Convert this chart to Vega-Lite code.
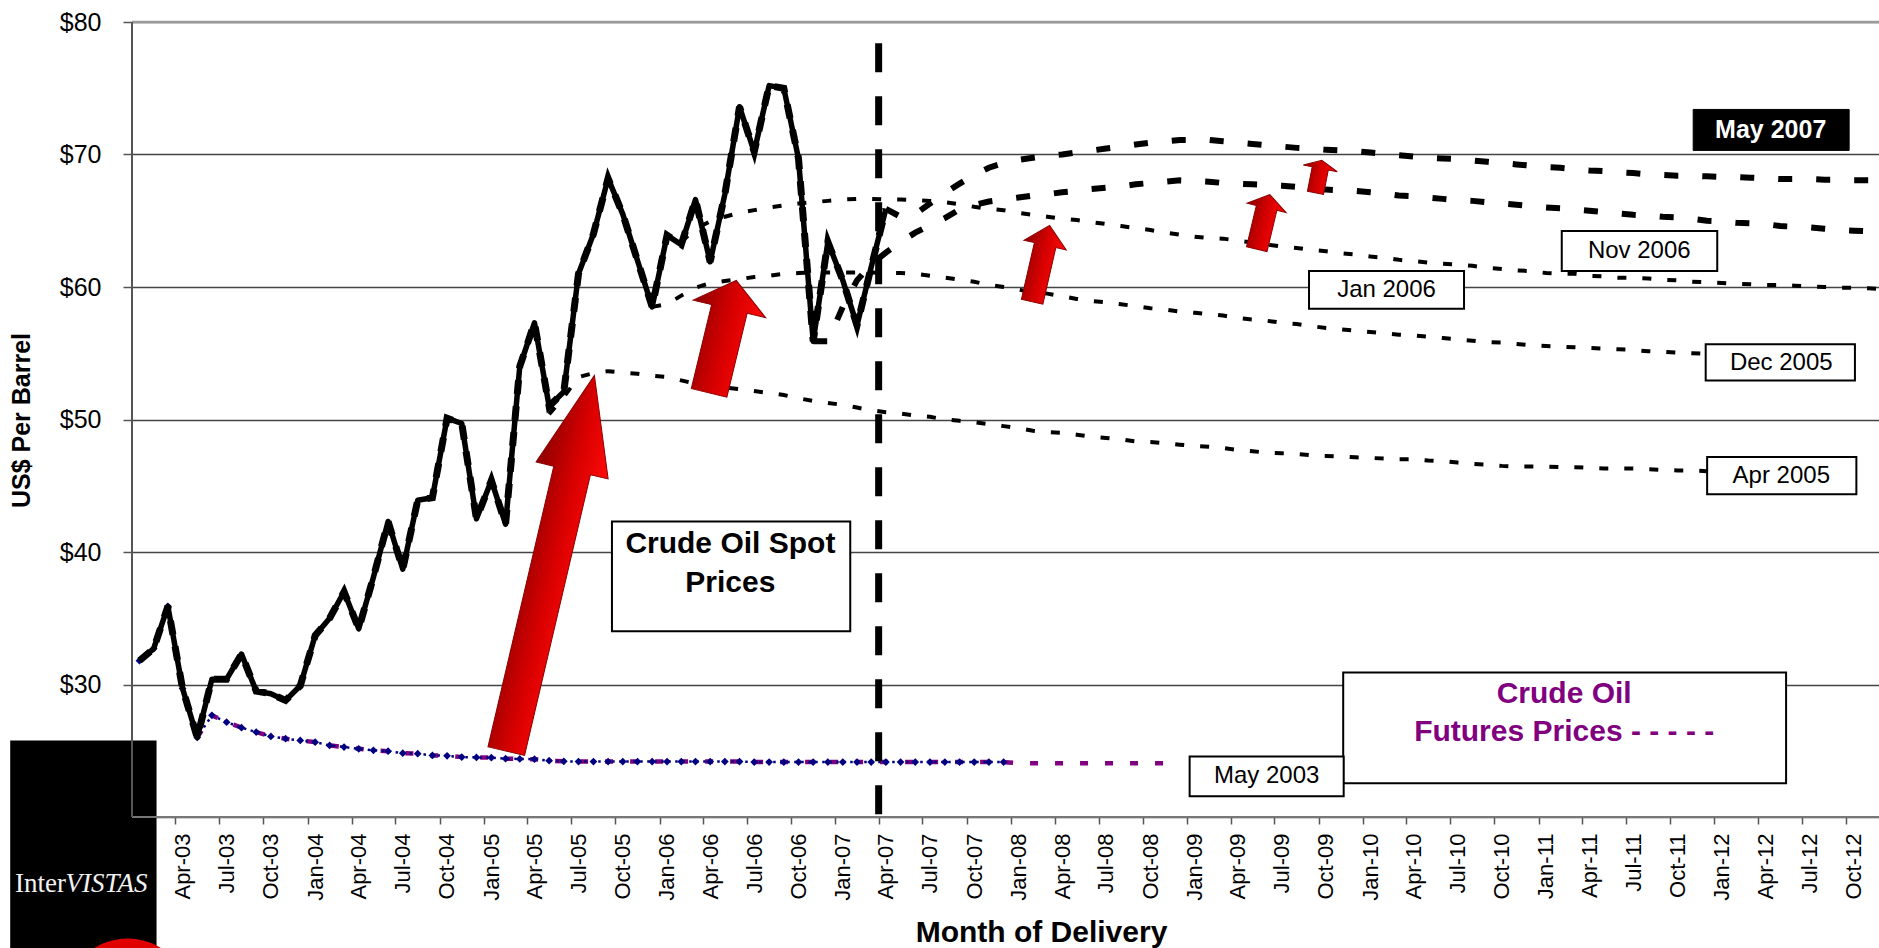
{
"$schema":"https://vega.github.io/schema/vega-lite/v6.json",
"width":1747,"height":795,"autosize":"none",
"padding":{"left":132,"top":22,"right":0,"bottom":131},
"background":"white",
"config":{"view":{"stroke":null},"font":"Liberation Sans"},
"datasets":{
"spot":[{"d":"2003-01","v":31.8},{"d":"2003-02","v":32.7},{"d":"2003-03","v":35.9},{"d":"2003-04","v":29.7},{"d":"2003-05","v":26.0},{"d":"2003-06","v":30.4},{"d":"2003-07","v":30.4},{"d":"2003-08","v":32.3},{"d":"2003-09","v":29.5},{"d":"2003-10","v":29.3},{"d":"2003-11","v":28.8},{"d":"2003-12","v":29.9},
{"d":"2004-01","v":33.7},{"d":"2004-02","v":35.0},{"d":"2004-03","v":37.0},{"d":"2004-04","v":34.2},{"d":"2004-05","v":38.1},{"d":"2004-06","v":42.3},{"d":"2004-07","v":38.7},{"d":"2004-08","v":43.9},{"d":"2004-09","v":44.1},{"d":"2004-10","v":50.1},{"d":"2004-11","v":49.7},{"d":"2004-12","v":42.5},
{"d":"2005-01","v":45.4},{"d":"2005-02","v":42.1},{"d":"2005-03","v":54.0},{"d":"2005-04","v":57.3},{"d":"2005-05","v":51.0},{"d":"2005-06","v":52.1},{"d":"2005-07","v":61.0},{"d":"2005-08","v":64.0},{"d":"2005-09","v":68.2},{"d":"2005-10","v":65.5},{"d":"2005-11","v":62.0},{"d":"2005-12","v":58.5},
{"d":"2006-01","v":63.9},{"d":"2006-02","v":63.2},{"d":"2006-03","v":66.6},{"d":"2006-04","v":61.9},{"d":"2006-05","v":67.0},{"d":"2006-06","v":73.6},{"d":"2006-07","v":70.2},{"d":"2006-08","v":75.2},{"d":"2006-09","v":75.0},{"d":"2006-10","v":69.7},{"d":"2006-11","v":55.9},{"d":"2006-12","v":63.4},
{"d":"2007-01","v":60.5},{"d":"2007-02","v":57.1},{"d":"2007-03","v":61.5},{"d":"2007-04","v":65.9}],
"may03":[{"d":"2003-01","v":31.8},{"d":"2003-02","v":32.7},{"d":"2003-03","v":35.9},{"d":"2003-04","v":29.7},{"d":"2003-05","v":26.0},{"d":"2003-06","v":27.67},{"d":"2003-07","v":27.16},{"d":"2003-08","v":26.74},{"d":"2003-09","v":26.41},{"d":"2003-10","v":26.08},{"d":"2003-11","v":25.91},{"d":"2003-12","v":25.78},
{"d":"2004-01","v":25.65},{"d":"2004-02","v":25.4},{"d":"2004-03","v":25.28},{"d":"2004-04","v":25.15},{"d":"2004-05","v":25.03},{"d":"2004-06","v":24.97},{"d":"2004-07","v":24.82},{"d":"2004-08","v":24.78},{"d":"2004-09","v":24.65},{"d":"2004-10","v":24.62},{"d":"2004-11","v":24.52},{"d":"2004-12","v":24.5},
{"d":"2005-01","v":24.48},{"d":"2005-02","v":24.4},{"d":"2005-03","v":24.38},{"d":"2005-04","v":24.36},{"d":"2005-05","v":24.25},{"d":"2005-06","v":24.2},{"d":"2005-07","v":24.18},{"d":"2005-08","v":24.18},{"d":"2005-09","v":24.18},{"d":"2005-10","v":24.18},{"d":"2005-11","v":24.18},{"d":"2005-12","v":24.18},
{"d":"2006-01","v":24.18},{"d":"2006-02","v":24.18},{"d":"2006-03","v":24.18},{"d":"2006-04","v":24.18},{"d":"2006-05","v":24.18},{"d":"2006-06","v":24.18},{"d":"2006-07","v":24.15},{"d":"2006-08","v":24.15},{"d":"2006-09","v":24.15},{"d":"2006-10","v":24.15},{"d":"2006-11","v":24.15},{"d":"2006-12","v":24.15},
{"d":"2007-01","v":24.15},{"d":"2007-02","v":24.15},{"d":"2007-03","v":24.15},{"d":"2007-04","v":24.15},{"d":"2007-05","v":24.15},{"d":"2007-06","v":24.15},{"d":"2007-07","v":24.15},{"d":"2007-08","v":24.15},{"d":"2007-09","v":24.15},{"d":"2007-10","v":24.15},{"d":"2007-11","v":24.15},{"d":"2007-12","v":24.15},
{"d":"2008-01","v":24.05},{"d":"2008-02","v":24.05},{"d":"2008-03","v":24.05},{"d":"2008-04","v":24.05},{"d":"2008-05","v":24.05},{"d":"2008-06","v":24.05},{"d":"2008-07","v":24.05},{"d":"2008-08","v":24.05},{"d":"2008-09","v":24.05},{"d":"2008-10","v":24.05},{"d":"2008-11","v":24.05},{"d":"2008-12","v":24.05}],
"apr05":[{"d":"2005-05","v":50.4},{"d":"2005-06","v":51.7},{"d":"2005-07","v":53.2},{"d":"2005-08","v":53.5},{"d":"2005-09","v":53.65},{"d":"2005-10","v":53.55},{"d":"2005-11","v":53.45},{"d":"2005-12","v":53.3},
{"d":"2006-01","v":53.2},{"d":"2006-02","v":52.95},{"d":"2006-03","v":52.7},{"d":"2006-04","v":52.5},{"d":"2006-05","v":52.4},{"d":"2006-06","v":52.3},{"d":"2006-07","v":52.15},{"d":"2006-08","v":52.0},{"d":"2006-09","v":51.85},{"d":"2006-10","v":51.6},{"d":"2006-11","v":51.4},{"d":"2006-12","v":51.25},
{"d":"2007-01","v":51.1},{"d":"2007-02","v":50.9},{"d":"2007-03","v":50.7},{"d":"2007-04","v":50.55},{"d":"2007-05","v":50.45},{"d":"2007-06","v":50.3},{"d":"2007-07","v":50.2},{"d":"2007-08","v":50.0},{"d":"2007-09","v":49.9},{"d":"2007-10","v":49.8},{"d":"2007-11","v":49.65},{"d":"2007-12","v":49.5},
{"d":"2008-01","v":49.35},{"d":"2008-02","v":49.15},{"d":"2008-03","v":49.05},{"d":"2008-04","v":49.0},{"d":"2008-05","v":48.85},{"d":"2008-06","v":48.7},{"d":"2008-07","v":48.6},{"d":"2008-08","v":48.5},{"d":"2008-09","v":48.35},{"d":"2008-10","v":48.3},{"d":"2008-11","v":48.2},{"d":"2008-12","v":48.1},
{"d":"2009-01","v":48.0},{"d":"2009-02","v":47.95},{"d":"2009-03","v":47.85},{"d":"2009-04","v":47.7},{"d":"2009-05","v":47.6},{"d":"2009-06","v":47.5},{"d":"2009-07","v":47.45},{"d":"2009-08","v":47.4},{"d":"2009-09","v":47.3},{"d":"2009-10","v":47.25},{"d":"2009-11","v":47.2},{"d":"2009-12","v":47.15},
{"d":"2010-01","v":47.1},{"d":"2010-02","v":47.05},{"d":"2010-03","v":47.0},{"d":"2010-04","v":47.0},{"d":"2010-05","v":46.9},{"d":"2010-06","v":46.85},{"d":"2010-07","v":46.75},{"d":"2010-08","v":46.65},{"d":"2010-09","v":46.6},{"d":"2010-10","v":46.5},{"d":"2010-11","v":46.45},{"d":"2010-12","v":46.45},
{"d":"2011-01","v":46.45},{"d":"2011-02","v":46.4},{"d":"2011-03","v":46.4},{"d":"2011-04","v":46.35},{"d":"2011-05","v":46.3},{"d":"2011-06","v":46.3},{"d":"2011-07","v":46.3},{"d":"2011-08","v":46.25},{"d":"2011-09","v":46.2},{"d":"2011-10","v":46.15},{"d":"2011-11","v":46.15},{"d":"2011-12","v":46.1}],
"dec05":[{"d":"2005-12","v":58.5},
{"d":"2006-01","v":58.7},{"d":"2006-02","v":59.35},{"d":"2006-03","v":59.95},{"d":"2006-04","v":60.3},{"d":"2006-05","v":60.45},{"d":"2006-06","v":60.6},{"d":"2006-07","v":60.75},{"d":"2006-08","v":60.85},{"d":"2006-09","v":61.0},{"d":"2006-10","v":61.05},{"d":"2006-11","v":61.1},{"d":"2006-12","v":61.1},
{"d":"2007-01","v":61.1},{"d":"2007-02","v":61.1},{"d":"2007-03","v":61.1},{"d":"2007-04","v":61.05},{"d":"2007-05","v":61.05},{"d":"2007-06","v":61.0},{"d":"2007-07","v":60.85},{"d":"2007-08","v":60.7},{"d":"2007-09","v":60.55},{"d":"2007-10","v":60.4},{"d":"2007-11","v":60.15},{"d":"2007-12","v":60.0},
{"d":"2008-01","v":59.8},{"d":"2008-02","v":59.6},{"d":"2008-03","v":59.5},{"d":"2008-04","v":59.3},{"d":"2008-05","v":59.1},{"d":"2008-06","v":58.95},{"d":"2008-07","v":58.85},{"d":"2008-08","v":58.7},{"d":"2008-09","v":58.55},{"d":"2008-10","v":58.4},{"d":"2008-11","v":58.3},{"d":"2008-12","v":58.15},
{"d":"2009-01","v":58.05},{"d":"2009-02","v":57.95},{"d":"2009-03","v":57.85},{"d":"2009-04","v":57.65},{"d":"2009-05","v":57.55},{"d":"2009-06","v":57.45},{"d":"2009-07","v":57.3},{"d":"2009-08","v":57.2},{"d":"2009-09","v":57.05},{"d":"2009-10","v":56.9},{"d":"2009-11","v":56.8},{"d":"2009-12","v":56.7},
{"d":"2010-01","v":56.6},{"d":"2010-02","v":56.5},{"d":"2010-03","v":56.4},{"d":"2010-04","v":56.35},{"d":"2010-05","v":56.25},{"d":"2010-06","v":56.15},{"d":"2010-07","v":56.05},{"d":"2010-08","v":55.95},{"d":"2010-09","v":55.85},{"d":"2010-10","v":55.8},{"d":"2010-11","v":55.7},{"d":"2010-12","v":55.6},
{"d":"2011-01","v":55.55},{"d":"2011-02","v":55.5},{"d":"2011-03","v":55.45},{"d":"2011-04","v":55.4},{"d":"2011-05","v":55.35},{"d":"2011-06","v":55.3},{"d":"2011-07","v":55.25},{"d":"2011-08","v":55.15},{"d":"2011-09","v":55.1},{"d":"2011-10","v":55.05},{"d":"2011-11","v":55.0},{"d":"2011-12","v":54.95}],
"jan06":[{"d":"2006-02","v":63.4},{"d":"2006-03","v":64.4},{"d":"2006-04","v":64.95},{"d":"2006-05","v":65.3},{"d":"2006-06","v":65.6},{"d":"2006-07","v":65.8},{"d":"2006-08","v":66.0},{"d":"2006-09","v":66.15},{"d":"2006-10","v":66.3},{"d":"2006-11","v":66.4},{"d":"2006-12","v":66.5},
{"d":"2007-01","v":66.6},{"d":"2007-02","v":66.65},{"d":"2007-03","v":66.65},{"d":"2007-04","v":66.6},{"d":"2007-05","v":66.6},{"d":"2007-06","v":66.55},{"d":"2007-07","v":66.5},{"d":"2007-08","v":66.4},{"d":"2007-09","v":66.25},{"d":"2007-10","v":66.05},{"d":"2007-11","v":65.9},{"d":"2007-12","v":65.8},
{"d":"2008-01","v":65.6},{"d":"2008-02","v":65.45},{"d":"2008-03","v":65.3},{"d":"2008-04","v":65.15},{"d":"2008-05","v":65.05},{"d":"2008-06","v":64.9},{"d":"2008-07","v":64.75},{"d":"2008-08","v":64.6},{"d":"2008-09","v":64.45},{"d":"2008-10","v":64.3},{"d":"2008-11","v":64.1},{"d":"2008-12","v":63.95},
{"d":"2009-01","v":63.8},{"d":"2009-02","v":63.7},{"d":"2009-03","v":63.65},{"d":"2009-04","v":63.5},{"d":"2009-05","v":63.35},{"d":"2009-06","v":63.2},{"d":"2009-07","v":63.05},{"d":"2009-08","v":62.95},{"d":"2009-09","v":62.8},{"d":"2009-10","v":62.7},{"d":"2009-11","v":62.55},{"d":"2009-12","v":62.45},
{"d":"2010-01","v":62.3},{"d":"2010-02","v":62.2},{"d":"2010-03","v":62.05},{"d":"2010-04","v":61.95},{"d":"2010-05","v":61.85},{"d":"2010-06","v":61.75},{"d":"2010-07","v":61.7},{"d":"2010-08","v":61.6},{"d":"2010-09","v":61.45},{"d":"2010-10","v":61.35},{"d":"2010-11","v":61.25},{"d":"2010-12","v":61.2},
{"d":"2011-01","v":61.05},{"d":"2011-02","v":61.0},{"d":"2011-03","v":61.0},{"d":"2011-04","v":60.85},{"d":"2011-05","v":60.8},{"d":"2011-06","v":60.7},{"d":"2011-07","v":60.7},{"d":"2011-08","v":60.65},{"d":"2011-09","v":60.55},{"d":"2011-10","v":60.5},{"d":"2011-11","v":60.4},{"d":"2011-12","v":60.35},
{"d":"2012-01","v":60.3},{"d":"2012-02","v":60.25},{"d":"2012-03","v":60.2},{"d":"2012-04","v":60.15},{"d":"2012-05","v":60.15},{"d":"2012-06","v":60.1},{"d":"2012-07","v":60.05},{"d":"2012-08","v":60.0},{"d":"2012-09","v":59.95},{"d":"2012-10","v":59.95},{"d":"2012-11","v":59.9},{"d":"2012-12","v":59.85}],
"nov06":[{"d":"2006-11","v":55.9},{"d":"2006-12","v":55.9},
{"d":"2007-01","v":58.5},{"d":"2007-02","v":60.5},{"d":"2007-03","v":61.7},{"d":"2007-04","v":62.6},{"d":"2007-05","v":63.4},{"d":"2007-06","v":64.1},{"d":"2007-07","v":64.65},{"d":"2007-08","v":65.2},{"d":"2007-09","v":65.85},{"d":"2007-10","v":66.2},{"d":"2007-11","v":66.45},{"d":"2007-12","v":66.6},
{"d":"2008-01","v":66.75},{"d":"2008-02","v":66.9},{"d":"2008-03","v":67.0},{"d":"2008-04","v":67.15},{"d":"2008-05","v":67.25},{"d":"2008-06","v":67.4},{"d":"2008-07","v":67.5},{"d":"2008-08","v":67.6},{"d":"2008-09","v":67.75},{"d":"2008-10","v":67.85},{"d":"2008-11","v":67.95},{"d":"2008-12","v":68.05},
{"d":"2009-01","v":68.0},{"d":"2009-02","v":67.95},{"d":"2009-03","v":67.85},{"d":"2009-04","v":67.8},{"d":"2009-05","v":67.75},{"d":"2009-06","v":67.7},{"d":"2009-07","v":67.65},{"d":"2009-08","v":67.55},{"d":"2009-09","v":67.45},{"d":"2009-10","v":67.35},{"d":"2009-11","v":67.3},{"d":"2009-12","v":67.25},
{"d":"2010-01","v":67.15},{"d":"2010-02","v":67.05},{"d":"2010-03","v":66.9},{"d":"2010-04","v":66.85},{"d":"2010-05","v":66.75},{"d":"2010-06","v":66.65},{"d":"2010-07","v":66.55},{"d":"2010-08","v":66.5},{"d":"2010-09","v":66.4},{"d":"2010-10","v":66.3},{"d":"2010-11","v":66.2},{"d":"2010-12","v":66.1},
{"d":"2011-01","v":66.0},{"d":"2011-02","v":65.95},{"d":"2011-03","v":65.85},{"d":"2011-04","v":65.75},{"d":"2011-05","v":65.65},{"d":"2011-06","v":65.55},{"d":"2011-07","v":65.45},{"d":"2011-08","v":65.4},{"d":"2011-09","v":65.3},{"d":"2011-10","v":65.25},{"d":"2011-11","v":65.15},{"d":"2011-12","v":65.0},
{"d":"2012-01","v":64.95},{"d":"2012-02","v":64.85},{"d":"2012-03","v":64.8},{"d":"2012-04","v":64.75},{"d":"2012-05","v":64.6},{"d":"2012-06","v":64.55},{"d":"2012-07","v":64.5},{"d":"2012-08","v":64.4},{"d":"2012-09","v":64.3},{"d":"2012-10","v":64.25},{"d":"2012-11","v":64.2},{"d":"2012-12","v":64.15}],
"may07":[{"d":"2007-04","v":65.9},{"d":"2007-05","v":65.3},{"d":"2007-06","v":65.5},{"d":"2007-07","v":66.3},{"d":"2007-08","v":67.1},{"d":"2007-09","v":67.8},{"d":"2007-10","v":68.45},{"d":"2007-11","v":69.0},{"d":"2007-12","v":69.35},
{"d":"2008-01","v":69.6},{"d":"2008-02","v":69.75},{"d":"2008-03","v":69.9},{"d":"2008-04","v":70.0},{"d":"2008-05","v":70.15},{"d":"2008-06","v":70.3},{"d":"2008-07","v":70.45},{"d":"2008-08","v":70.6},{"d":"2008-09","v":70.75},{"d":"2008-10","v":70.9},{"d":"2008-11","v":71.0},{"d":"2008-12","v":71.1},
{"d":"2009-01","v":71.1},{"d":"2009-02","v":71.1},{"d":"2009-03","v":71.0},{"d":"2009-04","v":70.9},{"d":"2009-05","v":70.8},{"d":"2009-06","v":70.7},{"d":"2009-07","v":70.6},{"d":"2009-08","v":70.5},{"d":"2009-09","v":70.45},{"d":"2009-10","v":70.35},{"d":"2009-11","v":70.3},{"d":"2009-12","v":70.25},
{"d":"2010-01","v":70.15},{"d":"2010-02","v":70.05},{"d":"2010-03","v":69.95},{"d":"2010-04","v":69.85},{"d":"2010-05","v":69.75},{"d":"2010-06","v":69.7},{"d":"2010-07","v":69.65},{"d":"2010-08","v":69.55},{"d":"2010-09","v":69.45},{"d":"2010-10","v":69.35},{"d":"2010-11","v":69.25},{"d":"2010-12","v":69.15},
{"d":"2011-01","v":69.05},{"d":"2011-02","v":69.0},{"d":"2011-03","v":68.9},{"d":"2011-04","v":68.8},{"d":"2011-05","v":68.75},{"d":"2011-06","v":68.65},{"d":"2011-07","v":68.6},{"d":"2011-08","v":68.5},{"d":"2011-09","v":68.45},{"d":"2011-10","v":68.4},{"d":"2011-11","v":68.4},{"d":"2011-12","v":68.35},
{"d":"2012-01","v":68.3},{"d":"2012-02","v":68.3},{"d":"2012-03","v":68.25},{"d":"2012-04","v":68.2},{"d":"2012-05","v":68.15},{"d":"2012-06","v":68.15},{"d":"2012-07","v":68.15},{"d":"2012-08","v":68.1},{"d":"2012-09","v":68.1},{"d":"2012-10","v":68.05},{"d":"2012-11","v":68.05},{"d":"2012-12","v":68.0}]
},
"layer":[
{"data":{"values":[{}]},"mark":{"type":"rule","color":"#9a9a9a","strokeWidth":2.5},"encoding":{"y":{"datum":80,"type":"quantitative"}}},
{"data":{"name":"may03"},"transform":[{"filter":"time(datum.d) >= utc(2003,4,1)"}],
 "mark":{"type":"line","color":"#800080","strokeWidth":4.5,"strokeDash":[8,17],"clip":true},
 "encoding":{
  "x":{"field":"d","type":"temporal","timeUnit":"utcyearmonth","bandPosition":0.5,
   "scale":{"type":"utc","domain":[{"year":2003,"month":1,"date":1,"utc":true},{"year":2012,"month":12,"date":8,"utc":true}]},
   "axis":{"title":"Month of Delivery","labelExpr":"utcFormat(datum.value, '%b-%y')","tickCount":{"interval":"month","step":3},
    "labelAngle":270,"labelAlign":"right","labelBaseline":"middle","labelOffset":7.3,"labelPadding":9,"labelFontSize":22,"labelColor":"black",
    "labelOverlap":false,"labelFlush":false,"labelBound":false,"tickSize":7,"tickColor":"#555555","tickWidth":1.5,"domain":false,"grid":false,
    "titleFontSize":30,"titleFontWeight":"bold","titleColor":"black","titleX":909,"titleY":115,"titleBaseline":"middle","titleAlign":"center","titleAnchor":null}},
  "y":{"field":"v","type":"quantitative","scale":{"domain":[20,80],"nice":false,"zero":false},
   "axis":{"title":"US$ Per Barrel","values":[20,30,40,50,60,70,80],"format":"$.0f","labelFontSize":25,"labelColor":"black","labelPadding":22,
    "tickSize":9,"tickColor":"#555555","tickWidth":1.5,"domain":false,"grid":true,"gridColor":"#444444","gridWidth":1.3,
    "titleFontSize":25,"titleFontWeight":"bold","titleColor":"black","titleX":-111,"titleY":398,"titleAngle":270,"titleBaseline":"middle","titleAlign":"center","titleAnchor":null}}}},
{"data":{"name":"may03"},"transform":[{"filter":"time(datum.d) < utc(2008,0,1)"}],
 "mark":{"type":"line","color":"#000080","strokeWidth":2.5,"strokeDash":[2.5,4.5]},
 "encoding":{"x":{"field":"d","type":"temporal","timeUnit":"utcyearmonth","bandPosition":0.5},"y":{"field":"v","type":"quantitative"}}},
{"data":{"name":"may03"},"transform":[{"filter":"time(datum.d) < utc(2008,0,1)"}],
 "mark":{"type":"point","shape":"diamond","filled":true,"color":"#000080","size":60,"opacity":1},
 "encoding":{"x":{"field":"d","type":"temporal","timeUnit":"utcyearmonth","bandPosition":0.5},"y":{"field":"v","type":"quantitative"}}},
{"data":{"name":"apr05"},"mark":{"type":"line","color":"black","strokeWidth":4,"strokeDash":[9,16],"clip":true},
 "encoding":{"x":{"field":"d","type":"temporal","timeUnit":"utcyearmonth","bandPosition":0.5},"y":{"field":"v","type":"quantitative"}}},
{"data":{"name":"dec05"},"mark":{"type":"line","color":"black","strokeWidth":4,"strokeDash":[9,16],"clip":true},
 "encoding":{"x":{"field":"d","type":"temporal","timeUnit":"utcyearmonth","bandPosition":0.5},"y":{"field":"v","type":"quantitative"}}},
{"data":{"name":"jan06"},"mark":{"type":"line","color":"black","strokeWidth":4,"strokeDash":[9,16],"clip":true},
 "encoding":{"x":{"field":"d","type":"temporal","timeUnit":"utcyearmonth","bandPosition":0.5},"y":{"field":"v","type":"quantitative"}}},
{"data":{"name":"nov06"},"mark":{"type":"line","color":"black","strokeWidth":6,"strokeDash":[14,24],"clip":true},
 "encoding":{"x":{"field":"d","type":"temporal","timeUnit":"utcyearmonth","bandPosition":0.5},"y":{"field":"v","type":"quantitative"}}},
{"data":{"name":"may07"},"mark":{"type":"line","color":"black","strokeWidth":6,"strokeDash":[14,24],"clip":true},
 "encoding":{"x":{"field":"d","type":"temporal","timeUnit":"utcyearmonth","bandPosition":0.5},"y":{"field":"v","type":"quantitative"}}},
{"data":{"name":"spot"},"mark":{"type":"line","color":"black","strokeWidth":7,"strokeDash":[14,12]},
 "encoding":{"x":{"field":"d","type":"temporal","timeUnit":"utcyearmonth","bandPosition":0.5},"y":{"field":"v","type":"quantitative"}}},
{"data":{"name":"spot"},"mark":{"type":"line","color":"black","strokeWidth":5.5,"strokeJoin":"round"},
 "encoding":{"x":{"field":"d","type":"temporal","timeUnit":"utcyearmonth","bandPosition":0.5},"y":{"field":"v","type":"quantitative"}}},
{"data":{"values":[{}]},"mark":{"type":"rule","color":"black","strokeWidth":7,"strokeDash":[29,24]},
 "encoding":{"x":{"datum":{"year":2007,"month":4,"date":1,"utc":true},"type":"temporal"},"y":{"datum":78.4,"type":"quantitative"},"y2":{"datum":19.5}}},
{"data":{"values":[{}]},"mark":{"type":"point","shape":"M-0.0974,1L0.0974,1L0.0974,-0.4938L0.1917,-0.4938L0,-1L-0.1917,-0.4938L-0.0974,-0.4938Z","size":148996,"angle":13.2,"filled":true,"opacity":1,
  "fill":{"gradient":"linear","x1":0,"y1":0,"x2":1,"y2":0,"stops":[{"offset":0,"color":"#8c0000"},{"offset":0.55,"color":"#d80000"},{"offset":1,"color":"#ff0a0a"}]},"stroke":"#8b0000","strokeWidth":1},
 "encoding":{"x":{"datum":{"year":2005,"month":5,"date":19,"utc":true},"type":"temporal"},"y":{"datum":39.15,"type":"quantitative"}}},
{"data":{"values":[{}]},"mark":{"type":"point","shape":"M-0.3163,1L0.3163,1L0.3163,-0.4935L0.6448,-0.4935L0,-1L-0.6448,-0.4935L-0.3163,-0.4935Z","size":13386,"angle":13.6,"filled":true,"opacity":1,
  "fill":{"gradient":"linear","x1":0,"y1":0,"x2":1,"y2":0,"stops":[{"offset":0,"color":"#8c0000"},{"offset":0.55,"color":"#d80000"},{"offset":1,"color":"#ff0a0a"}]},"stroke":"#8b0000","strokeWidth":1},
 "encoding":{"x":{"datum":{"year":2006,"month":5,"date":12,"utc":true},"type":"temporal"},"y":{"datum":56.25,"type":"quantitative"}}},
{"data":{"values":[{}]},"mark":{"type":"point","shape":"M-0.281,1L0.281,1L0.281,-0.484L0.554,-0.484L0,-1L-0.554,-0.484L-0.281,-0.484Z","size":6131,"angle":12.9,"filled":true,"opacity":1,
  "fill":{"gradient":"linear","x1":0,"y1":0,"x2":1,"y2":0,"stops":[{"offset":0,"color":"#8c0000"},{"offset":0.55,"color":"#d80000"},{"offset":1,"color":"#ff0a0a"}]},"stroke":"#8b0000","strokeWidth":1},
 "encoding":{"x":{"datum":{"year":2008,"month":3,"date":3,"utc":true},"type":"temporal"},"y":{"datum":61.77,"type":"quantitative"}}},
{"data":{"values":[{}]},"mark":{"type":"point","shape":"M-0.374,1L0.374,1L0.374,-0.509L0.715,-0.509L0,-1L-0.715,-0.509L-0.374,-0.509Z","size":3158,"angle":13.4,"filled":true,"opacity":1,
  "fill":{"gradient":"linear","x1":0,"y1":0,"x2":1,"y2":0,"stops":[{"offset":0,"color":"#8c0000"},{"offset":0.55,"color":"#d80000"},{"offset":1,"color":"#ff0a0a"}]},"stroke":"#8b0000","strokeWidth":1},
 "encoding":{"x":{"datum":{"year":2009,"month":6,"date":8,"utc":true},"type":"temporal"},"y":{"datum":64.92,"type":"quantitative"}}},
{"data":{"values":[{}]},"mark":{"type":"point","shape":"M-0.4955,1L0.4955,1L0.4955,-0.5045L1.045,-0.5045L0,-1L-1.045,-0.5045L-0.4955,-0.5045Z","size":1096,"angle":11.1,"filled":true,"opacity":1,
  "fill":{"gradient":"linear","x1":0,"y1":0,"x2":1,"y2":0,"stops":[{"offset":0,"color":"#8c0000"},{"offset":0.55,"color":"#d80000"},{"offset":1,"color":"#ff0a0a"}]},"stroke":"#8b0000","strokeWidth":1},
 "encoding":{"x":{"datum":{"year":2009,"month":10,"date":1,"utc":true},"type":"temporal"},"y":{"datum":68.33,"type":"quantitative"}}},
{"data":{"values":[
  {"x1":"2005-09-24","x2":"2007-02-01","y1":42.31,"y2":34.01},
  {"x1":"2009-11-21","x2":"2012-05-29","y1":30.91,"y2":22.54},
  {"x1":"2009-01-06","x2":"2009-11-22","y1":24.57,"y2":21.56},
  {"x1":"2011-12-17","x2":"2012-10-22","y1":47.17,"y2":44.35},
  {"x1":"2011-12-14","x2":"2012-10-19","y1":55.67,"y2":52.95},
  {"x1":"2011-02-18","x2":"2012-01-07","y1":64.22,"y2":61.2},
  {"x1":"2009-09-11","x2":"2010-07-30","y1":61.2,"y2":58.36}]},
 "mark":{"type":"rect","fill":"white","stroke":"black","strokeWidth":2},
 "encoding":{"x":{"field":"x1","type":"temporal"},"x2":{"field":"x2"},"y":{"field":"y1","type":"quantitative"},"y2":{"field":"y2"}}},
{"data":{"values":[{"x1":"2011-11-18","x2":"2012-10-07","y1":73.4,"y2":70.31}]},
 "mark":{"type":"rect","fill":"black","stroke":"black","strokeWidth":1},
 "encoding":{"x":{"field":"x1","type":"temporal"},"x2":{"field":"x2"},"y":{"field":"y1","type":"quantitative"},"y2":{"field":"y2"}}},
{"data":{"values":[{"t":"Crude Oil Spot","x":"2006-05-28","y":40.57},{"t":"Prices","x":"2006-05-28","y":37.67}]},
 "mark":{"type":"text","fontSize":30,"fontWeight":"bold","color":"black"},
 "encoding":{"x":{"field":"x","type":"temporal"},"y":{"field":"y","type":"quantitative"},"text":{"field":"t"}}},
{"data":{"values":[{"t":"Crude Oil","x":"2011-02-23","y":29.25},{"t":"Futures Prices - - - - -","x":"2011-02-23","y":26.41}]},
 "mark":{"type":"text","fontSize":30,"fontWeight":"bold","color":"#800080"},
 "encoding":{"x":{"field":"x","type":"temporal"},"y":{"field":"y","type":"quantitative"},"text":{"field":"t"}}},
{"data":{"values":[{"t":"May 2003","x":"2009-06-15","y":23.1},{"t":"Apr 2005","x":"2012-05-19","y":45.7},{"t":"Dec 2005","x":"2012-05-19","y":54.3},{"t":"Nov 2006","x":"2011-07-29","y":62.7},{"t":"Jan 2006","x":"2010-02-19","y":59.8}]},
 "mark":{"type":"text","fontSize":24,"color":"black"},
 "encoding":{"x":{"field":"x","type":"temporal"},"y":{"field":"y","type":"quantitative"},"text":{"field":"t"}}},
{"data":{"values":[{"t":"May 2007","x":"2012-04-27","y":71.86}]},
 "mark":{"type":"text","fontSize":25,"fontWeight":"bold","color":"white"},
 "encoding":{"x":{"field":"x","type":"temporal"},"y":{"field":"y","type":"quantitative"},"text":{"field":"t"}}},
{"data":{"values":[{"x1":"2002-04-23","x2":"2003-02-21","y1":25.78,"y2":9}]},
 "mark":{"type":"rect","fill":"black"},
 "encoding":{"x":{"field":"x1","type":"temporal"},"x2":{"field":"x2"},"y":{"field":"y1","type":"quantitative"},"y2":{"field":"y2"}}},
{"data":{"values":[{"x":"2002-12-23","y":6.16}]},
 "mark":{"type":"point","shape":"circle","filled":true,"color":"#e00000","size":15376,"opacity":1},
 "encoding":{"x":{"field":"x","type":"temporal"},"y":{"field":"y","type":"quantitative"}}},
{"data":{"values":[{"t":"Inter","x":"2002-05-03","y":14.31}]},
 "mark":{"type":"text","font":"Liberation Serif","fontSize":27,"color":"#f2f2f2","align":"left","baseline":"alphabetic"},
 "encoding":{"x":{"field":"x","type":"temporal"},"y":{"field":"y","type":"quantitative"},"text":{"field":"t"}}},
{"data":{"values":[{"t":"VISTAS","x":"2002-08-16","y":14.31}]},
 "mark":{"type":"text","font":"Liberation Serif","fontSize":27,"fontStyle":"italic","color":"#f2f2f2","align":"left","baseline":"alphabetic"},
 "encoding":{"x":{"field":"x","type":"temporal"},"y":{"field":"y","type":"quantitative"},"text":{"field":"t"}}},
{"data":{"values":[{}]},"mark":{"type":"rule","color":"#777777","strokeWidth":2},"encoding":{"y":{"datum":20,"type":"quantitative"}}},
{"data":{"values":[{}]},"mark":{"type":"rule","color":"#555555","strokeWidth":2},"encoding":{"x":{"datum":{"year":2003,"month":1,"date":1,"utc":true},"type":"temporal"}}}
]
}
